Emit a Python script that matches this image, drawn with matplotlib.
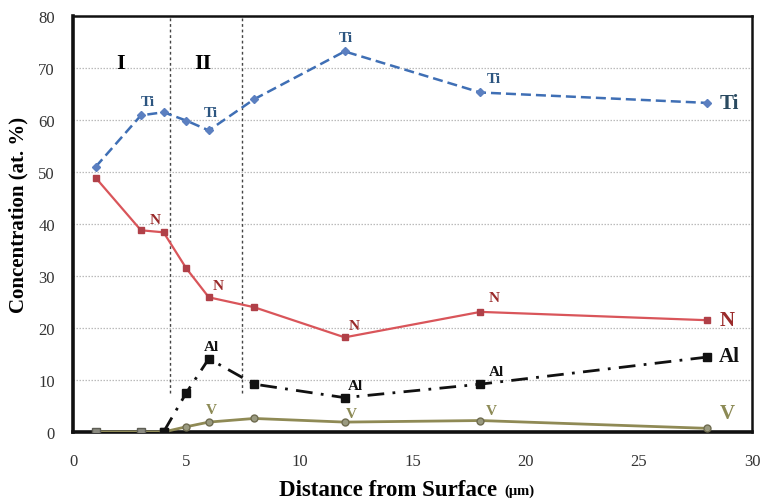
import matplotlib
matplotlib.use("Agg")
import matplotlib.pyplot as plt

# ── Data ──────────────────────────────────────────────
DEPTH = [1, 3, 4, 5, 6, 8, 12, 18, 28]
TI = [51.0, 60.9, 61.5, 59.9, 58.0, 64.0, 73.2, 65.3, 63.3]
N  = [48.9, 38.8, 38.4, 31.5, 25.9, 24.0, 18.2, 23.1, 21.5]
AL = [0.0, 0.0, 0.0, 7.5, 14.1, 9.2, 6.6, 9.2, 14.4]
V  = [0.0, 0.0, 0.0, 1.0, 1.9, 2.6, 1.9, 2.2, 0.7]

BOUNDARIES = [4.3, 7.45]
ZONES = ["I", "II"]
ZONE_X = [2.1, 5.75]

# point labels: (x, y) of each small label
TI_LABELS = [(3.3, 63.6), (6.1, 61.4), (12.05, 75.8), (18.6, 67.9)]
N_LABELS  = [(3.65, 40.8), (6.4, 28.2), (12.4, 20.5), (18.6, 25.8)]
AL_LABELS = [(6.1, 16.4), (12.5, 9.0), (18.7, 11.6)]
V_LABELS  = [(6.1, 4.3), (12.3, 3.6), (18.5, 4.2)]

TI_C, N_C, AL_C, V_C = "#3f6fb5", "#d9555a", "#111111", "#8f8a55"
TI_T, N_T, V_T = "#2c5580", "#9a2a2a", "#8c8a55"

plt.rcParams["font.family"] = ["Liberation Serif", "DejaVu Serif"]

fig = plt.figure(figsize=(7.63, 5.02), dpi=100)
ax = fig.add_axes([0.0957, 0.1375, 0.89, 0.8285])

ax.plot(DEPTH, V, color=V_C, lw=2.0, marker="o", ms=5,
        mfc="#9a9a80", mec="#6f6c50", zorder=3)
ax.plot(DEPTH[:3], AL[:3], ls="none", marker="s", ms=6,
        mfc="#8a8a80", mec="#5e5e55", zorder=4)
ax.plot(DEPTH[2:], AL[2:], color=AL_C, lw=2.0, ls=(0, (6, 3, 1, 3)),
        marker="s", ms=5.5, mfc=AL_C, mec=AL_C, zorder=4)
ax.plot(DEPTH, N, color=N_C, lw=1.6, marker="s", ms=4,
        mfc="#b04048", mec="#b04048", zorder=3)
ax.plot(DEPTH, TI, color=TI_C, lw=1.8, ls=(0, (4, 2)), marker="D", ms=4,
        mfc="#5b7fc0", mec="#5b7fc0", zorder=3)

for b in BOUNDARIES:
    ax.axvline(b, ymin=7.5 / 80, ymax=1, color="#444444", lw=1.0,
               ls=(0, (2, 2)), zorder=2)
for z, zx in zip(ZONES, ZONE_X):
    ax.text(zx, 71, z, fontsize=16, fontweight="bold", ha="center",
            va="center")

for x, y in TI_LABELS:
    ax.text(x, y, "Ti", color=TI_T, fontsize=11, fontweight="bold",
            ha="center", va="center")
for x, y in N_LABELS:
    ax.text(x, y, "N", color=N_T, fontsize=11, fontweight="bold",
            ha="center", va="center")
for x, y in AL_LABELS:
    ax.text(x, y, "Al", color="#111111", fontsize=11, fontweight="bold",
            ha="center", va="center")
for x, y in V_LABELS:
    ax.text(x, y, "V", color=V_T, fontsize=11, fontweight="bold",
            ha="center", va="center")

# end-of-line labels
ax.text(28.55, TI[-1], "Ti", color="#2a4a60", fontsize=15, fontweight="bold",
        va="center")
ax.text(28.55, N[-1], "N", color=N_T, fontsize=15, fontweight="bold",
        va="center")
ax.text(28.55, AL[-1] + 0.3, "Al", color="#111111", fontsize=15,
        fontweight="bold", va="center")
ax.text(28.55, 3.6, "V", color=V_T, fontsize=15, fontweight="bold",
        va="center")

ax.set_xlim(0, 30)
ax.set_ylim(0, 80)
ax.set_xticks(range(0, 31, 5))
ax.set_yticks(range(0, 81, 10))
ax.tick_params(length=0, labelsize=12, labelcolor="#333333")
ax.tick_params(axis="x", pad=15)
ax.tick_params(axis="y", pad=13)
ax.yaxis.grid(True, color="#bbbbbb", ls=(0, (1.2, 1.2)), lw=0.9)
ax.set_axisbelow(True)

for s in ["top", "right"]:
    ax.spines[s].set_linewidth(1.8)
for s in ["left", "bottom"]:
    ax.spines[s].set_linewidth(2.6)
for s in ax.spines.values():
    s.set_color("#111111")

ax.set_ylabel("Concentration (at. %)", fontsize=15, fontweight="bold")
ax.yaxis.set_label_coords(-0.066, 0.524)
ax.set_xlabel("Distance from Surface", fontsize=16.5, fontweight="bold")
ax.xaxis.set_label_coords(0.464, -0.112)
# smaller unit text right after the axis label
ax.annotate("(μm)", xy=(1, 0.12), xycoords=ax.xaxis.label, xytext=(5, 0),
            textcoords="offset points", fontsize=10.5, fontweight="bold",
            va="bottom", ha="left")

fig.savefig("out.png", dpi=100, facecolor="white")
